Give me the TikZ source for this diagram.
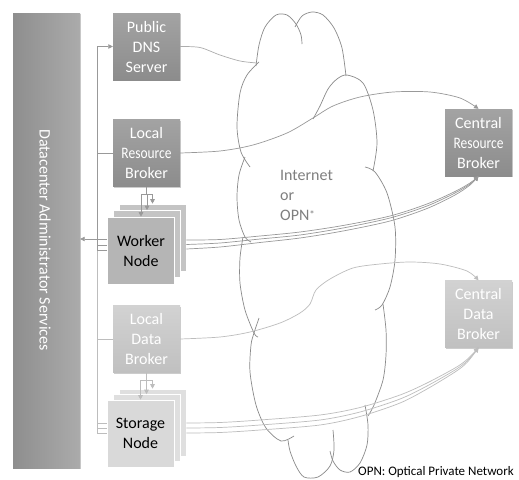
\documentclass[tikz,border=0pt]{standalone}
\usepackage{fontspec}
\usepackage{graphicx}
\setmainfont{Carlito}
\usetikzlibrary{arrows.meta,shadows}

\definecolor{darktop}{HTML}{A3A3A3}
\definecolor{darkbot}{HTML}{8C8C8C}
\definecolor{lighttop}{HTML}{D2D2D2}
\definecolor{lightbot}{HTML}{C0C0C0}
\definecolor{barleft}{HTML}{8E8E8E}
\definecolor{barright}{HTML}{ABABAB}
\definecolor{wkfront}{HTML}{B5B5B5}
\definecolor{wkback}{HTML}{C4C4C4}
\definecolor{stfront}{HTML}{D9D9D9}
\definecolor{stback}{HTML}{DFDFDF}
\definecolor{linedark}{HTML}{999999}
\definecolor{linelight}{HTML}{BDBDBD}
\definecolor{cloudline}{HTML}{8A8A8A}
\definecolor{cloudtext}{HTML}{7F7F7F}

\tikzset{
  box/.style={minimum width=67pt, minimum height=67pt, inner sep=0pt,
    align=center, font=\fontsize{16}{20}\selectfont, text=white},
  softshadow/.style={drop shadow={shadow xshift=1pt, shadow yshift=-1.2pt,
    opacity=0.2, fill=black}},
  darkbox/.style={box, top color=darktop, bottom color=darkbot, softshadow},
  lightbox/.style={box, top color=lighttop, bottom color=lightbot, softshadow},
  page/.style={minimum width=67pt, minimum height=67pt, inner sep=0pt,
    draw=white, line width=0.6pt, fill=#1, align=center,
    font=\fontsize{16}{20}\selectfont, text=black},
  conn/.style={draw=#1, line width=0.7pt},
  tip/.style={-{Triangle[length=4.5pt,width=4.5pt]}},
  cloudarc/.style={draw=cloudline, line width=0.7pt},
}

\newcommand{\narrow}[1]{\scalebox{0.84}[1]{#1}}

\begin{document}
\begin{tikzpicture}[x=1pt,y=-1pt]
\useasboundingbox[fill=white] (0,0) rectangle (519,479);

% administrator services bar
\node[minimum width=67pt, minimum height=455pt, inner sep=0pt,
  left color=barleft, right color=barright, softshadow] (admin) at (46.5,240.5) {};
\node[rotate=-90, text=white, font=\fontsize{16}{20}\selectfont] (admintext)
  at (45,240) {Datacenter Administrator Services};

% datacenter components
\node[darkbox] (dns) at (146.5,46.5) {Public\\DNS\\Server};
\node[darkbox] (lrb) at (146.5,153) {Local\\\narrow{Resource}\\Broker};

\node[page=wkback] (wk3) at (152.5,237.5) {};
\node[page=wkback] (wk2) at (147,244) {};
\node[page=wkfront] (wk1) at (141,250.5) {Worker\\Node};

\node[lightbox] (ldb) at (146.5,339) {Local\\Data\\Broker};

\node[page=stback] (st3) at (152.5,422.5) {};
\node[page=stback] (st2) at (146.5,428) {};
\node[page=stfront] (st1) at (140.5,433.5) {Storage\\Node};

% central brokers
\node[darkbox] (crb) at (478.5,142.5) {Central\\\narrow{Resource}\\Broker};
\node[lightbox] (cdb) at (478.5,314) {Central\\Data\\Broker};

% network cloud, drawn lobe by lobe
\draw[cloudarc] plot[smooth] coordinates {(256,66) (259,45) (265,27) (276,15) (287,15) (296,24) (301,35) (302,44)};
\draw[cloudarc] plot[smooth] coordinates {(295,27) (302,16) (312,12) (323,15) (334,28) (342,48) (346,76)};
\draw[cloudarc] plot[smooth] coordinates {(313,119) (320,106) (328,89) (337,79) (347,75) (363,83) (373,110) (377,143) (373,171)};
\draw[cloudarc] plot[smooth] coordinates {(365,167) (375,172) (387,193) (395,227) (395,260) (390,287) (382,305) (375,310)};
\draw[cloudarc] plot[smooth] coordinates {(383,304) (386,330) (386,355) (383,380) (374,405) (368,416)};
\draw[cloudarc] plot[smooth] coordinates {(365,405) (368,425) (367,445) (360,463) (350,472) (340,470) (333,461) (330,451)};
\draw[cloudarc] plot[smooth] coordinates {(333,430) (334,450) (330,466) (318,477) (304,477) (296,466) (290,451) (288,440)};
\draw[cloudarc] plot[smooth] coordinates {(294,436) (281,441) (266,428) (256,405) (250,372) (251,345) (254,333) (259,318)};
\draw[cloudarc] plot[smooth] coordinates {(243,237) (240,258) (240,283) (245,310) (254,333) (258,337)};
\draw[cloudarc] plot[smooth] coordinates {(245,157) (239,175) (237,197) (239,220) (245,237) (251,242)};
\draw[cloudarc] plot[smooth] coordinates {(259,62) (247,75) (240,93) (237,127) (241,152) (250,167)};
\coordinate (cloudin) at (257,63);

\node[anchor=base west, align=left, text=cloudtext, inner sep=0pt,
  font=\fontsize{16}{20}\selectfont] (net) at (280,220)
  {Internet\\or\\OPN\raisebox{2pt}{\fontsize{11}{11}\selectfont *}};

% management bus on the left
\coordinate (busx) at (97,0);
\draw[conn=linedark, tip] (wk1.west) -| (busx |- dns.west) -- (dns.west);
\draw[conn=linelight] (st1.west) -| (busx |- wk1.west);
\draw[conn=linedark] (busx |- lrb.west) -- (lrb.west);
\draw[conn=linelight] (busx |- ldb.west) -- (ldb.west);

\coordinate (wl1) at ([yshift=11.5pt]wk1.west);
\coordinate (wl2) at ([yshift=5.5pt]wk1.west);
\draw[conn=linedark] (wl1) -- (wl1 -| busx);
\draw[conn=linedark] (wl2) -- (wl2 -| busx);
\draw[conn=linedark, tip] (wl1 -| busx) -- (wl1 -| admin.east);

\coordinate (sl1) at ([yshift=10.5pt]st1.west);
\coordinate (sl2) at ([yshift=5.5pt]st1.west);
\draw[conn=linelight] (sl1) -- (sl1 -| busx);
\draw[conn=linelight] (sl2) -- (sl2 -| busx);

% local brokers feeding their node stacks
\coordinate (wf) at (146.5,194);
\draw[conn=linedark] (lrb.south) -- (wf);
\draw[conn=linedark] (wk1.north |- wf) -- (wk3.north |- wf);
\draw[conn=linedark, tip] (wk1.north |- wf) -- (wk1.north);
\draw[conn=linedark, tip] (wk2.north |- wf) -- (wk2.north);
\draw[conn=linedark, tip] (wk3.north |- wf) -- (wk3.north);

\coordinate (sf) at (146.5,380);
\draw[conn=linelight] (ldb.south) -- (sf);
\draw[conn=linelight] (st1.north |- sf) -- (st3.north |- sf);
\draw[conn=linelight, tip] (st1.north |- sf) -- (st1.north);
\draw[conn=linelight, tip] (st2.north |- sf) -- (st2.north);
\draw[conn=linelight, tip] (st3.north |- sf) -- (st3.north);

% links across the network
\draw[conn=linedark!80] plot[smooth] coordinates {(dns.east) (200,47.5) (220,55) (240,61) (cloudin)};

\draw[conn=linedark, tip] plot[smooth] coordinates {(lrb.east) (220,151) (253,145) (287,133) (313,118) (333,106) (360,97) (393,92) (430,92) (460,98) (crb.north)};

\coordinate (wr1) at ([yshift=-2.5pt]wk3.east);
\coordinate (wr2) at ([yshift=-7pt]wk3.east);
\coordinate (wr3) at ([yshift=-11.5pt]wk3.east);
\draw[conn=linedark, tip] plot[smooth] coordinates {(wr1) (220,239.5) (260,236) (300,232) (343,225.5) (390,216) (427,204) (455,191.5) (470,183) (crb.south)};
\draw[conn=linedark, tip] plot[smooth] coordinates {(wr2) (220,243) (260,239) (300,235) (343,228) (390,218) (427,206) (455,193) (470,184) (crb.south)};
\draw[conn=linedark, tip] plot[smooth] coordinates {(wr3) (220,247) (260,242.5) (300,238) (343,231) (390,221) (427,208.5) (455,195) (470,185) (crb.south)};

\draw[conn=linelight, tip] plot[smooth] coordinates {(ldb.east) (220,337) (250,332) (280,323) (300,313) (310,304) (316,290) (330,279) (353,268) (380,264) (410,262) (440,264) (467,271) (cdb.north)};

\coordinate (sr1) at ([yshift=-0.5pt]st3.east);
\coordinate (sr2) at ([yshift=-5.5pt]st3.east);
\coordinate (sr3) at ([yshift=-10.5pt]st3.east);
\draw[conn=linelight, tip] plot[smooth] coordinates {(sr1) (220,422.5) (260,420) (320,415) (360,407.5) (400,395) (427,383) (455,368) (467,359.5) (cdb.south)};
\draw[conn=linelight, tip] plot[smooth] coordinates {(sr2) (220,427.5) (260,425) (320,420) (360,412) (400,399) (427,386) (455,370) (467,361) (cdb.south)};
\draw[conn=linelight, tip] plot[smooth] coordinates {(sr3) (220,432.5) (260,430) (320,425) (360,416.5) (400,403) (427,389) (455,372) (467,362.5) (cdb.south)};

% footnote
\node[anchor=base west, inner sep=0pt, font=\fontsize{13}{15}\selectfont] (note)
  at (358,475.5) {OPN: Optical Private Network};
\end{tikzpicture}
\end{document}
